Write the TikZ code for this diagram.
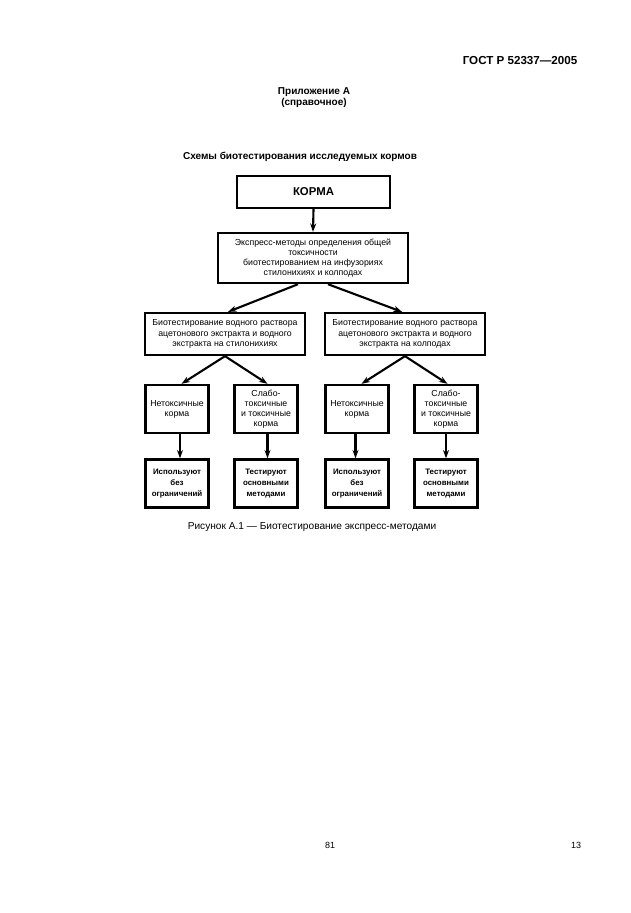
\documentclass[tikz,border=0pt]{standalone}
\usepackage{fontspec}
\setmainfont{Liberation Sans}
\usetikzlibrary{arrows.meta}

\begin{document}
\begin{tikzpicture}[x=0.3333mm,y=-0.3333mm,
	box/.style={draw, line width=2.2pt, align=center, inner sep=1pt, font=\fontsize{8.3}{9.6}\selectfont},
	big/.style={box, minimum width=53.3mm, minimum height=14mm},
	small/.style={box, minimum width=21mm, minimum height=16mm},
	res/.style={small, font=\fontsize{7.5}{10.5}\selectfont\bfseries},
	arr/.style={-{Stealth[length=2.8mm,width=2mm]}, line width=2pt}]

	\useasboundingbox (0,0) rectangle (630,913);

	% page head
	\node (gost)[anchor=east, font=\fontsize{11}{13}\selectfont\bfseries] at (581,61) {ГОСТ Р 52337—2005};
	\node (app)[font=\fontsize{9.5}{10.5}\selectfont\bfseries, align=center] at (314,98) {Приложение А\\(справочное)};
	\node (title)[font=\fontsize{9.5}{12}\selectfont\bfseries] at (300,157) {Схемы биотестирования исследуемых кормов};

	\node (korma)[box, minimum width=51mm, minimum height=10.7mm, font=\fontsize{10.8}{12}\selectfont\bfseries] at (313.5,192) {КОРМА};
	\node (expr)[box, minimum width=63.3mm, minimum height=16.7mm] at (313,258) {Экспресс-методы определения общей\\токсичности\\биотестированием на инфузориях\\стилонихиях и колподах};

	\node (st)[big] at (225,334) {Биотестирование водного раствора\\ацетонового экстракта и водного\\экстракта на стилонихиях};
	\node (kol)[big] at (405,334) {Биотестирование водного раствора\\ацетонового экстракта и водного\\экстракта на колподах};

	\node (nt1)[small] at (177,409) {Нетоксичные\\корма};
	\node (tk1)[small] at (266,409) {Слабо-\\токсичные\\и токсичные\\корма};
	\node (nt2)[small] at (357,409) {Нетоксичные\\корма};
	\node (tk2)[small] at (446,409) {Слабо-\\токсичные\\и токсичные\\корма};

	\node (use1)[res] at (177,483.5) {Используют\\без\\ограничений};
	\node (test1)[res] at (266,483.5) {Тестируют\\основными\\методами};
	\node (use2)[res] at (357,483.5) {Используют\\без\\ограничений};
	\node (test2)[res] at (446,483.5) {Тестируют\\основными\\методами};

	\draw [arr] (korma.south) to (expr.north);
	\draw [arr] ([xshift=-5mm]expr.south) to ([xshift=1mm]st.north);
	\draw [arr] ([xshift=5mm]expr.south) to ([xshift=-1mm]kol.north);

	\draw [arr] (st.south) to ([xshift=1.5mm]nt1.north);
	\draw [arr] (st.south) to ([xshift=0.5mm]tk1.north);
	\draw [arr] (kol.south) to ([xshift=1.5mm]nt2.north);
	\draw [arr] (kol.south) to ([xshift=0.5mm]tk2.north);

	\draw [arr] ([xshift=1mm]nt1.south) to ([xshift=1mm]use1.north);
	\draw [arr] ([xshift=0.5mm]tk1.south) to ([xshift=0.5mm]test1.north);
	\draw [arr] ([xshift=-0.5mm]nt2.south) to ([xshift=-0.5mm]use2.north);
	\draw [arr] (tk2.south) to (test2.north);

	\node (cap)[font=\fontsize{9.6}{11}\selectfont] at (312,527) {Рисунок А.1 — Биотестирование экспресс-методами};
	\node (p81)[font=\fontsize{8.5}{10}\selectfont] at (330,845) {81};
	\node (p13)[font=\fontsize{8.5}{10}\selectfont] at (576,845) {13};

\end{tikzpicture}
\end{document}
